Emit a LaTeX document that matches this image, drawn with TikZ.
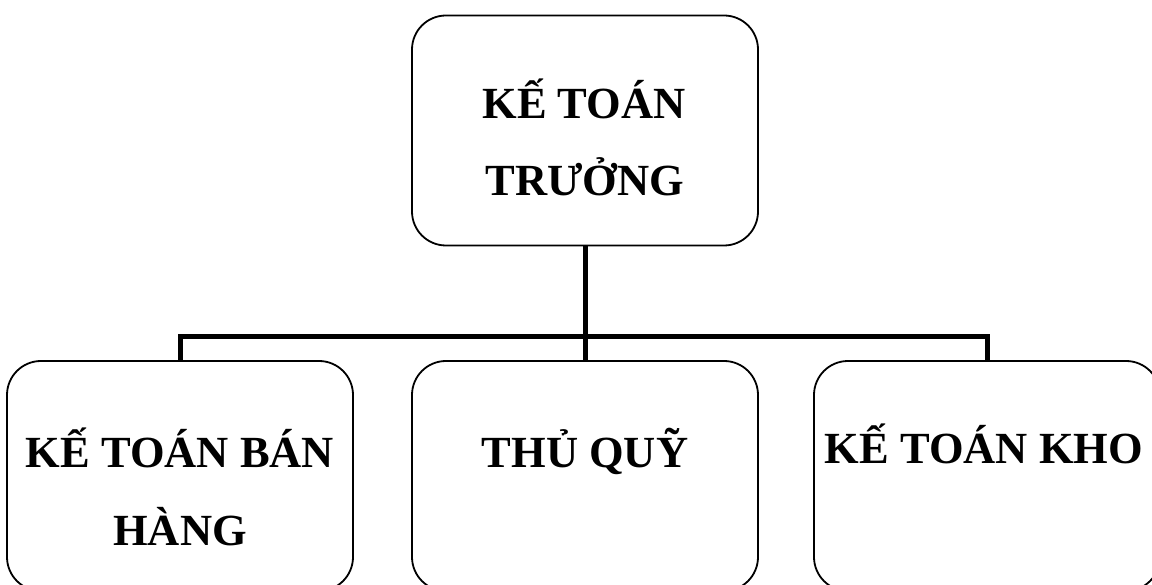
\documentclass[tikz,border=0pt]{standalone}
\usepackage{fontspec}
\setmainfont{Liberation Serif}
\begin{document}
\begin{tikzpicture}[x=1pt,y=-1pt,
  box/.style={draw=black,line width=1.8pt,rounded corners=34pt,minimum width=346pt,minimum height=230pt,inner sep=0pt},
  lbl/.style={anchor=base,inner sep=0pt,font=\fontsize{44.5}{50}\selectfont\bfseries},
  conn/.style={draw=black,line width=5pt}]
\useasboundingbox (0,0) rectangle (1152,585);
\clip (0,0) rectangle (1152,585);
\fill[white] (0,0) rectangle (1152,585);
% boxes
\node[box] (top) at (585,130.5) {};
\node[box] (ban) at (180,476) {};
\node[box] (quy) at (585,476) {};
\node[box] (kho) at (987,476) {};
% texts
\node[lbl] (t1) at (584,119) {KẾ TOÁN};
\node[lbl] (t2) at (585,196) {TRƯỞNG};
\node[lbl] (b1) at (180,467) {KẾ TOÁN BÁN};
\node[lbl] (b2) at (180,545) {HÀNG};
\node[lbl] (q1) at (585,467) {THỦ QUỸ};
\node[lbl] (k1) at (984,463) {KẾ TOÁN KHO};
% connectors
\coordinate (bus) at (585,337);
\draw[conn] (top.south) -- (bus);
\draw[conn] (ban.north) |- (bus) -| (kho.north);
\draw[conn] (bus) -- (quy.north);
\end{tikzpicture}
\end{document}
